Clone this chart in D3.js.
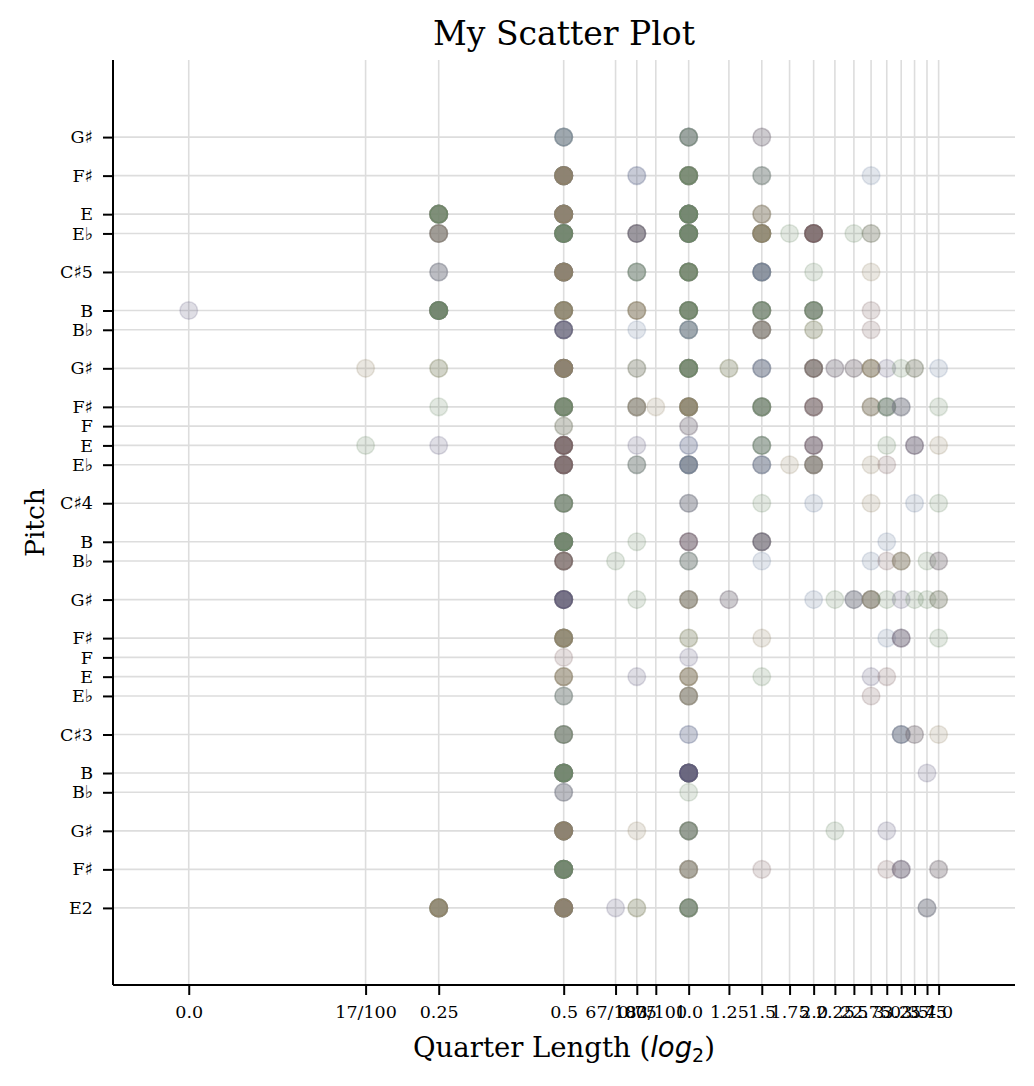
<!DOCTYPE html>
<html>
<head>
<meta charset="utf-8">
<script src="https://cdn.jsdelivr.net/npm/d3@7"></script>
<style>
  body { margin: 0; background: #fff; }
  text { font-family: "DejaVu Serif", serif; fill: #000; }
</style>
</head>
<body>
<svg id="chart" width="1034" height="1086"></svg>
<script>
// DATA
const pitchTicks = [40, 42, 44, 46, 47, 49, 51, 52, 53, 54, 56, 58, 59, 61, 63, 64, 65, 66, 68, 70, 71, 73, 75, 76, 78, 80];
const pitchLabels = ["E2", "F♯", "G♯", "B♭", "B", "C♯3", "E♭", "E", "F", "F♯", "G♯", "B♭", "B", "C♯4", "E♭", "E", "F", "F♯", "G♯", "B♭", "B", "C♯5", "E♭", "E", "F♯", "G♯"];

const qlTicks = [0, 1/6, 0.25, 0.5, 2/3, 0.75, 5/6, 1.0, 1.25, 1.5, 1.75, 2.0, 2.25, 2.5, 2.75, 3.0, 3.25, 3.5, 3.75, 4.0];
const qlLabels = ["0.0", "17/100", "0.25", "0.5", "67/100", "0.75", "83/100", "1.0", "1.25", "1.5", "1.75", "2.0", "2.25", "2.5", "2.75", "3.0", "3.25", "3.5", "3.75", "4.0"];

// palette hue index: P purple, T tan, G green, R red, B blue
const P = 0, T = 1, G = 2, R = 3, B = 4;

// [quarterLength, midi pitch, number of notes, hue]
const points = [
    [0.5, 80, 5, B], [1, 80, 5, G], [1.5, 80, 2, R],
    [0.5, 78, 14, T], [0.75, 78, 2, B], [1, 78, 10, G], [1.5, 78, 3, G], [2.75, 78, 1, B],
    [0.25, 76, 10, G], [0.5, 76, 14, T], [1, 76, 14, G], [1.5, 76, 3, T],
    [0.25, 75, 6, T], [0.5, 75, 14, G], [0.75, 75, 5, P], [1, 75, 14, G], [1.5, 75, 10, T],
    [1.75, 75, 1, G], [2, 75, 10, R], [2.5, 75, 1, G], [2.75, 75, 2, G],
    [0.25, 73, 3, B], [0.5, 73, 14, T], [0.75, 73, 4, G], [1, 73, 10, G], [1.5, 73, 7, B],
    [2, 73, 1, G], [2.75, 73, 1, T],
    [0, 71, 1, P], [0.25, 71, 14, G], [0.5, 71, 10, T], [0.75, 71, 4, T], [1, 71, 10, G],
    [1.5, 71, 7, G], [2, 71, 7, G], [2.75, 71, 1, R],
    [0.5, 70, 7, P], [0.75, 70, 1, B], [1, 70, 5, B], [1.5, 70, 6, T], [2, 70, 2, T], [2.75, 70, 1, R],
    [1/6, 68, 1, T], [0.25, 68, 2, T], [0.5, 68, 14, T], [0.75, 68, 2, G], [1, 68, 10, G],
    [1.25, 68, 2, T], [1.5, 68, 4, B], [2, 68, 6, R], [2.25, 68, 2, R], [2.5, 68, 2, P],
    [2.75, 68, 4, T], [3, 68, 1, P], [3.25, 68, 1, G], [3.5, 68, 2, G], [4, 68, 1, B],
    [0.25, 66, 1, G], [0.5, 66, 10, G], [0.75, 66, 5, T], [5/6, 66, 1, T], [1, 66, 10, T],
    [1.5, 66, 7, G], [2, 66, 5, R], [2.75, 66, 3, T], [3, 66, 4, G], [3.25, 66, 3, B], [4, 66, 1, G],
    [0.5, 65, 2, G], [1, 65, 2, R],
    [1/6, 64, 1, G], [0.25, 64, 1, P], [0.5, 64, 10, R], [0.75, 64, 1, P], [1, 64, 2, B],
    [1.5, 64, 4, G], [2, 64, 4, R], [3, 64, 1, G], [3.5, 64, 3, R], [4, 64, 1, T],
    [0.5, 63, 10, R], [0.75, 63, 3, G], [1, 63, 7, B], [1.5, 63, 4, B], [1.75, 63, 1, T],
    [2, 63, 6, T], [2.75, 63, 1, T], [3, 63, 1, R],
    [0.5, 61, 7, G], [1, 61, 3, B], [1.5, 61, 1, G], [2, 61, 1, B], [2.75, 61, 1, T],
    [3.5, 61, 1, B], [4, 61, 1, G],
    [0.5, 59, 14, G], [0.75, 59, 1, G], [1, 59, 4, R], [1.5, 59, 5, P], [3, 59, 1, B],
    [0.5, 58, 7, R], [2/3, 58, 1, G], [1, 58, 3, G], [1.5, 58, 1, B], [2.75, 58, 1, B],
    [3, 58, 1, R], [3.25, 58, 3, T], [3.75, 58, 1, G], [4, 58, 2, P],
    [0.5, 56, 10, P], [0.75, 56, 1, G], [1, 56, 5, T], [1.25, 56, 2, R], [2, 56, 1, B],
    [2.25, 56, 1, G], [2.5, 56, 3, B], [2.75, 56, 5, T], [3, 56, 1, G], [3.25, 56, 1, P],
    [3.5, 56, 1, G], [3.75, 56, 1, G], [4, 56, 2, G],
    [0.5, 54, 10, T], [1, 54, 2, T], [1.5, 54, 1, T], [3, 54, 1, B], [3.25, 54, 3, R], [4, 54, 1, G],
    [0.5, 53, 1, R], [1, 53, 1, P],
    [0.5, 52, 4, T], [0.75, 52, 1, P], [1, 52, 4, T], [1.5, 52, 1, G], [2.75, 52, 1, P], [3, 52, 1, R],
    [0.5, 51, 3, G], [1, 51, 5, T], [2.75, 51, 1, R],
    [0.5, 49, 6, G], [1, 49, 2, B], [3.25, 49, 4, B], [3.5, 49, 2, P], [4, 49, 1, T],
    [0.5, 47, 14, G], [1, 47, 14, P], [3.75, 47, 1, P],
    [0.5, 46, 3, B], [1, 46, 1, G],
    [0.5, 44, 14, T], [0.75, 44, 1, T], [1, 44, 6, G], [2.25, 44, 1, G], [3, 44, 1, P],
    [0.5, 42, 14, G], [1, 42, 5, T], [1.5, 42, 1, R], [3, 42, 1, R], [3.25, 42, 3, R], [4, 42, 2, P],
    [0.25, 40, 10, T], [0.5, 40, 14, T], [2/3, 40, 1, P], [0.75, 40, 2, T], [1, 40, 7, G], [3.75, 40, 3, B]
];

// STYLE
const palette = ["#605c7f", "#988969", "#6f8a67", "#7e5f5f", "#6c84a1"];
const gridColor = "#dddddd";
const markerAlpha = 0.2;

const plot = { left: 113, right: 1015, top: 60, bottom: 985 };

// zero-length notes sit at 1/16 on the log axis
const toLog = q => q === 0 ? -4 : Math.log2(q);

const x = d3.scaleLinear().domain([-4.606, 2.611]).range([plot.left, plot.right]);
const y = d3.scaleLinear().domain([36, 84]).range([plot.bottom, plot.top]);

const svg = d3.select("#chart");

// grid
svg.append("g").selectAll("line").data(qlTicks).join("line")
    .attr("x1", d => x(toLog(d))).attr("x2", d => x(toLog(d)))
    .attr("y1", plot.top).attr("y2", plot.bottom)
    .attr("stroke", gridColor).attr("stroke-width", 1.6);

svg.append("g").selectAll("line").data(pitchTicks).join("line")
    .attr("x1", plot.left).attr("x2", plot.right)
    .attr("y1", d => y(d)).attr("y2", d => y(d))
    .attr("stroke", gridColor).attr("stroke-width", 1.6);

// each note is one translucent circle; repeated notes stack up darker
const circles = [];
points.forEach(([q, p, n, hue]) => {
    const own = Math.ceil(n / 3);
    for (let k = 0; k < n; k++) {
        const c = k < n - own ? palette[(k + hue + 1) % palette.length] : palette[hue];
        circles.push({ q, p, c });
    }
});

svg.append("g").selectAll("circle").data(circles).join("circle")
    .attr("cx", d => x(toLog(d.q)))
    .attr("cy", d => y(d.p))
    .attr("r", 8.8)
    .attr("fill", d => d.c)
    .attr("fill-opacity", markerAlpha)
    .attr("stroke", d => d.c)
    .attr("stroke-opacity", markerAlpha)
    .attr("stroke-width", 1.5);

// axes
const xAxis = d3.axisBottom(x)
    .tickValues(qlTicks.map(toLog))
    .tickFormat((d, i) => qlLabels[i])
    .tickSize(10).tickPadding(11);

const yAxis = d3.axisLeft(y)
    .tickValues(pitchTicks)
    .tickFormat((d, i) => pitchLabels[i])
    .tickSize(10).tickPadding(10);

const gx = svg.append("g").attr("transform", `translate(0,${plot.bottom})`).call(xAxis);
const gy = svg.append("g").attr("transform", `translate(${plot.left},0)`).call(yAxis);

[gx, gy].forEach(g => {
    g.select(".domain").attr("stroke", "#000").attr("stroke-width", 2);
    g.selectAll(".tick line").attr("stroke", "#000").attr("stroke-width", 2);
    g.selectAll(".tick text")
        .attr("font-family", "DejaVu Serif")
        .attr("font-size", 17.5)
        .attr("fill", "#000");
});
// matplotlib-style spines: no outer ticks on the domain path
gx.select(".domain").attr("d", `M${plot.left},0H${plot.right}`);
gy.select(".domain").attr("d", `M0,${plot.top}V${plot.bottom}`);

// title and labels
svg.append("text")
    .attr("x", (plot.left + plot.right) / 2).attr("y", 45)
    .attr("text-anchor", "middle")
    .attr("font-size", 33)
    .text("My Scatter Plot");

const xLabel = svg.append("text")
    .attr("x", (plot.left + plot.right) / 2).attr("y", 1057)
    .attr("text-anchor", "middle")
    .attr("font-size", 27.5);
xLabel.append("tspan").text("Quarter Length (");
xLabel.append("tspan").attr("font-family", "DejaVu Sans").attr("font-style", "italic").text("log");
xLabel.append("tspan").attr("font-family", "DejaVu Sans").attr("font-size", 19).attr("dy", 5).text("2");
xLabel.append("tspan").attr("dy", -5).text(")");

svg.append("text")
    .attr("transform", `translate(44,${(plot.top + plot.bottom) / 2}) rotate(-90)`)
    .attr("text-anchor", "middle")
    .attr("font-size", 26.5)
    .text("Pitch");
</script>
</body>
</html>
